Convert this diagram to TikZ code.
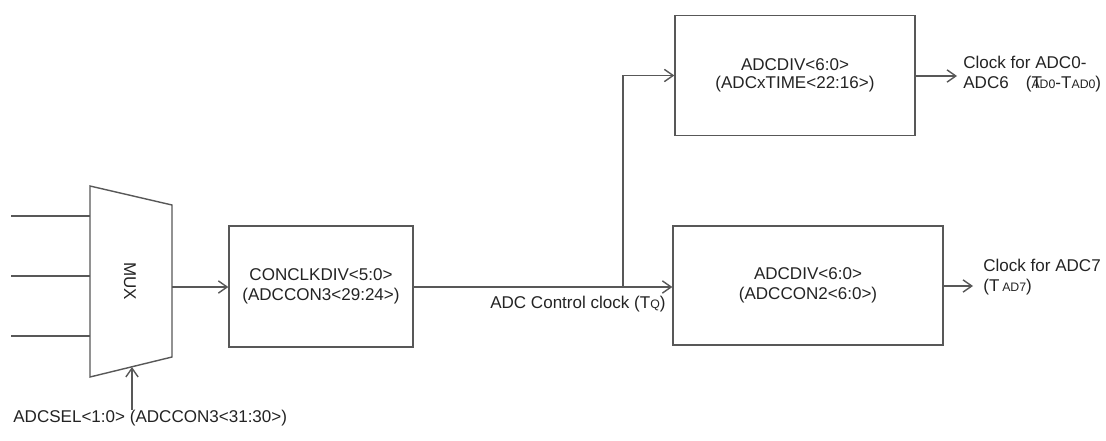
\documentclass[tikz,border=0pt]{standalone}
\usepackage{fontspec}
\setmainfont{Liberation Sans}
\usepackage{xcolor}
\usetikzlibrary{arrows.meta,positioning,calc}

\definecolor{wiregray}{RGB}{88,88,88}
\definecolor{inkgray}{RGB}{35,35,35}
\newcommand{\lblfont}{\fontsize{9.7}{11.4}\selectfont}

\begin{document}
\begin{tikzpicture}[x=0.02cm, y=-0.02cm,
  wire/.style={draw=wiregray, line width=0.8pt},
  flow/.style={wire, -{Straight Barb[length=5pt, width=7pt]}},
  blk/.style={draw=wiregray, line width=0.8pt, align=center, font=\lblfont, text=inkgray},
  txt/.style={align=left, font=\lblfont, text=inkgray, inner sep=0pt}]
\useasboundingbox (0,0) rectangle (1106,440);

% MUX
\coordinate (mtl) at (90,186);
\coordinate (mtr) at (172,205);
\coordinate (mbr) at (172,357);
\coordinate (mbl) at (90,377);
\draw[wire] (mtl) -- (mtr) -- (mbr) -- (mbl) -- cycle;
\node[txt, rotate=-90] (mux) at (130,281) {MUX};
\coordinate (in1) at (11,216);
\coordinate (in2) at (11,276);
\coordinate (in3) at (11,336);
\draw[wire] (in1) -- (in1 -| mtl);
\draw[wire] (in2) -- (in2 -| mtl);
\draw[wire] (in3) -- (in3 -| mtl);
\coordinate (msel) at (132,367);
\coordinate (mout) at (172,287);

\node[txt, anchor=west] (sel) at (13,418) {ADCSEL<1:0> (ADCCON3<31:30>)};
\draw[flow] (sel.north -| msel) -- (msel);

% Dividers
\node[blk, minimum width=3.68cm, minimum height=2.42cm] (conclk) at (321,286.5)
  {CONCLKDIV<5:0>\\(ADCCON3<29:24>)};
\node[blk, minimum width=4.8cm, minimum height=2.4cm] (divtime) at (795,75.5)
  {\raisebox{-3pt}{\shortstack{ADCDIV<6:0>\\(ADCxTIME<22:16>)}}};
\node[blk, minimum width=5.4cm, minimum height=2.38cm] (divcon) at (808,285.5)
  {ADCDIV<6:0>\\(ADCCON2<6:0>)};

\draw[flow] (mout) -- (mout -| conclk.west);
\draw[flow] (mout -| conclk.east) -- (mout -| divcon.west)
  node[txt, pos=0.635, below=5pt] (tq) {ADC Control clock (T{\scriptsize Q})};
\coordinate (split) at (623,287);
\draw[flow] (split) |- (divtime.west);

% Outputs
\coordinate (out1) at (957,76);
\coordinate (out2) at (973,286);
\draw[flow] (divtime.east |- out1) -- (out1);
\draw[flow] (divcon.east |- out2) -- (out2);
\node[txt, anchor=west] (clk1) at (963,74)
  {Clock for ADC0-\\ADC6\quad(\makebox[0pt][l]{T}{\scriptsize AD0}-T{\scriptsize AD0})};
\node[txt, anchor=west] (clk2) at (983,277)
  {Clock for ADC7\\(T\,{\scriptsize AD7})};
\end{tikzpicture}
\end{document}
